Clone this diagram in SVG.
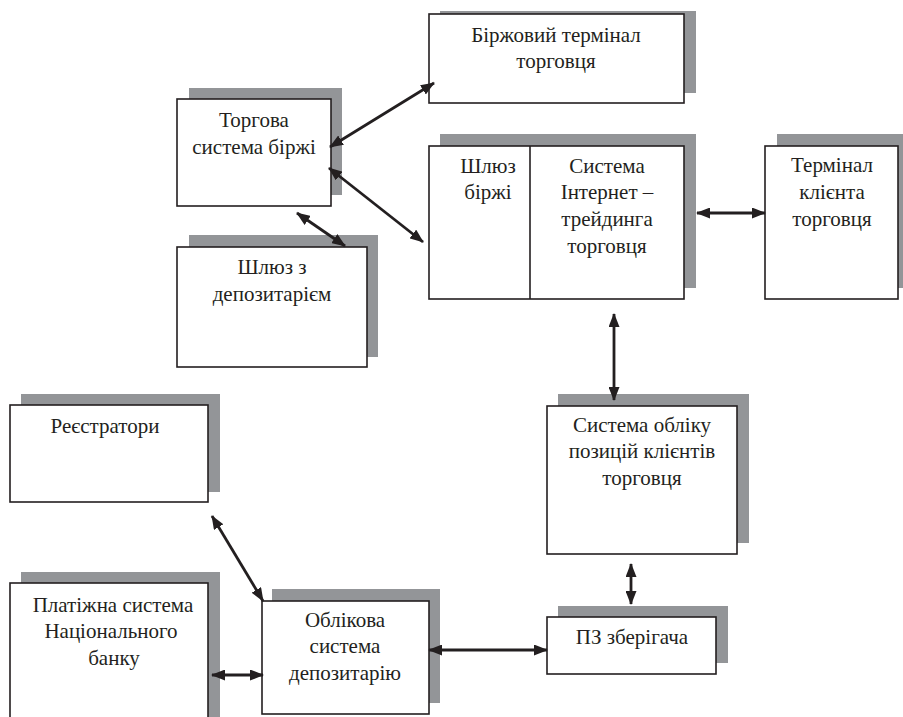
<svg xmlns="http://www.w3.org/2000/svg" width="903" height="717" viewBox="0 0 903 717">
<defs>
<style>
.sh{fill:#939598;stroke:none}
.bx{fill:#ffffff;stroke:#231f20;stroke-width:1.6}
text{font-family:'Liberation Serif','Times New Roman',Times,serif;font-size:21px;fill:#231f20;text-anchor:middle}
.c{stroke:#231f20;stroke-width:2.8;fill:none;marker-start:url(#ah);marker-end:url(#ah)}
</style>
<marker id="ah" viewBox="0 0 14 11" refX="13" refY="5.5" markerWidth="14" markerHeight="11" markerUnits="userSpaceOnUse" orient="auto-start-reverse">
<path d="M0,0 L14,5.5 L0,11 z" fill="#231f20"/>
</marker>
</defs>
<rect width="903" height="717" fill="#ffffff"/>

<g id="birzh-terminal">
<rect class="sh" x="440" y="11" width="256" height="82"/>
<rect class="bx" x="429" y="14" width="255" height="89"/>
<text x="556" y="42">Біржовий термінал</text>
<text x="556" y="68">торговця</text>
</g>

<g id="torhova-systema">
<rect class="sh" x="189" y="88" width="153" height="107"/>
<rect class="bx" x="177" y="99" width="154" height="107"/>
<text x="254" y="127">Торгова</text>
<text x="254" y="154">система біржі</text>
</g>

<g id="shliuz-internet">
<rect class="sh" x="440" y="134" width="256" height="154"/>
<rect class="bx" x="429" y="146" width="255" height="153"/>
<line x1="530" y1="146" x2="530" y2="299" stroke="#231f20" stroke-width="1.6"/>
<text x="488" y="173">Шлюз</text>
<text x="488" y="199">біржі</text>
<text x="607" y="173">Система</text>
<text x="607" y="199">Інтернет –</text>
<text x="607" y="226">трейдинга</text>
<text x="607" y="253">торговця</text>
</g>

<g id="terminal-klienta">
<rect class="sh" x="777" y="134" width="134" height="154"/>
<rect class="bx" x="765" y="146" width="133" height="153"/>
<text x="832" y="172">Термінал</text>
<text x="832" y="199">клієнта</text>
<text x="832" y="226">торговця</text>
</g>

<g id="shliuz-depozytarii">
<rect class="sh" x="189" y="235" width="189" height="122"/>
<rect class="bx" x="177" y="247" width="190" height="120"/>
<text x="272" y="274">Шлюз з</text>
<text x="272" y="301">депозитарієм</text>
</g>

<g id="reiestratory">
<rect class="sh" x="21" y="394" width="199" height="98"/>
<rect class="bx" x="10" y="405" width="198" height="97"/>
<text x="105" y="433">Реєстратори</text>
</g>

<g id="systema-obliku-pozytsii">
<rect class="sh" x="558" y="394" width="191" height="149"/>
<rect class="bx" x="547" y="406" width="190" height="148"/>
<text x="642" y="432">Система обліку</text>
<text x="642" y="458">позицій клієнтів</text>
<text x="642" y="485">торговця</text>
</g>

<g id="platizhna-systema">
<rect class="sh" x="21" y="572" width="199" height="160"/>
<rect class="bx" x="10" y="583" width="198" height="150"/>
<text x="113" y="612">Платіжна система</text>
<text x="111" y="638">Національного</text>
<text x="114" y="665">банку</text>
</g>

<g id="oblikova-systema">
<rect class="sh" x="272" y="589" width="168" height="114"/>
<rect class="bx" x="262" y="601" width="167" height="113"/>
<text x="345" y="627">Облікова</text>
<text x="345" y="653">система</text>
<text x="345" y="680">депозитарію</text>
</g>

<g id="pz-zberihacha">
<rect class="sh" x="558" y="606" width="170" height="57"/>
<rect class="bx" x="547" y="617" width="169" height="57"/>
<text x="632" y="644">ПЗ зберігача</text>
</g>

<g id="connectors">
<line class="c" x1="330" y1="147" x2="434" y2="83"/>
<line class="c" x1="329" y1="168" x2="423" y2="242"/>
<line class="c" x1="297" y1="213" x2="345" y2="246"/>
<line class="c" x1="697" y1="213" x2="765" y2="213"/>
<line class="c" x1="614" y1="314" x2="614" y2="400"/>
<line class="c" x1="631" y1="564" x2="631" y2="604"/>
<line class="c" x1="212" y1="516" x2="263" y2="601"/>
<line class="c" x1="212" y1="675" x2="263" y2="675"/>
<line class="c" x1="429" y1="650" x2="547" y2="650"/>
</g>
</svg>
